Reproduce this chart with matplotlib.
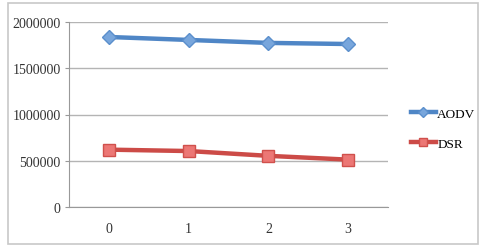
import numpy as np
import matplotlib
matplotlib.use('Agg')
import matplotlib.pyplot as plt
from matplotlib.patches import Rectangle

# data
categories = ['0', '1', '2', '3']
aodv = [1838000, 1806000, 1774000, 1762000]
dsr = [620000, 605000, 553000, 512000]
yticks = [0, 500000, 1000000, 1500000, 2000000]

plt.rcParams['font.family'] = ['Liberation Serif', 'DejaVu Serif']

fig = plt.figure(figsize=(4.87, 2.51), dpi=100)
fig.patches.append(Rectangle((8/487, 6/251), 470/487, 241/251, transform=fig.transFigure,
                             fill=False, edgecolor='#c8c8c8', linewidth=1.2))

ax = fig.add_axes([69/487, 1 - 208/251, 319/487, 185/251])
x = np.arange(len(categories))

ax.plot(x, aodv, color='#4f86c6', linewidth=3.2, marker='D', markersize=7,
        markerfacecolor='#78a6dc', markeredgecolor='#5b8fcc', label='AODV', zorder=3)
ax.plot(x, dsr, color='#cc4b47', linewidth=3.2, marker='s', markersize=8,
        markerfacecolor='#ec7775', markeredgecolor='#d0504c', label='DSR', zorder=3)

ax.set_xlim(-0.5, 3.5)
ax.set_ylim(0, 2000000)
ax.set_yticks(yticks)
ax.set_yticklabels([str(v) for v in yticks], fontsize=10, color='#333333')
ax.set_xticks(x)
ax.set_xticklabels(categories, fontsize=10, color='#333333')
ax.tick_params(axis='x', length=0, pad=11)
ax.tick_params(axis='y', length=3, color='#999999', pad=3)

ax.grid(axis='y', color='#b4b4b4', linewidth=1.0)
ax.set_axisbelow(True)
for s in ['top', 'right']:
    ax.spines[s].set_visible(False)
ax.spines['left'].set_color('#999999')
ax.spines['bottom'].set_color('#999999')

leg = ax.legend(loc='upper left', bbox_to_anchor=(399/487, 1 - 97/251),
                bbox_transform=fig.transFigure, frameon=False, fontsize=9.5,
                handlelength=1.9, handletextpad=0.1, labelspacing=1.3,
                markerscale=0.8)

fig.savefig('out.png', dpi=100)
